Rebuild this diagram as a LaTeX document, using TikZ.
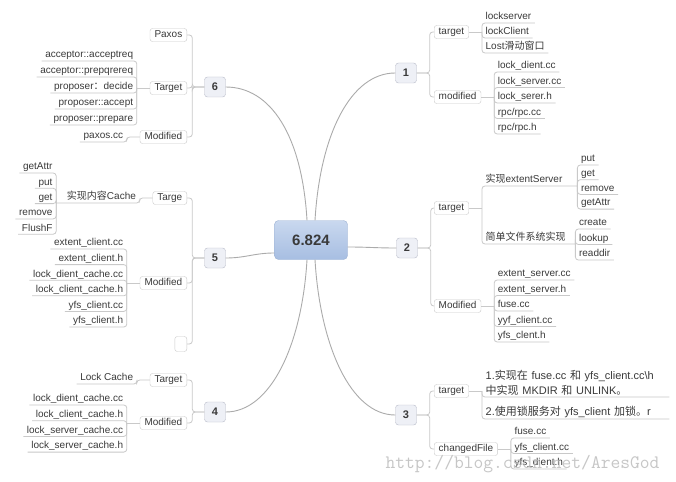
\documentclass[tikz,border=0pt]{standalone}
\usepackage{fontspec}
\setmainfont{Liberation Sans}
\newfontfamily\cjk{Noto Sans CJK SC}
\usepackage{tikz}
\newcommand{\zh}[1]{{\cjk #1}}
\newcommand{\leaffont}{\fontsize{10}{11}\selectfont}
\definecolor{ink}{HTML}{3A3A3A}
\definecolor{brline}{HTML}{C9C9C9}
\definecolor{curveline}{HTML}{ABABAB}
\definecolor{boxline}{HTML}{CACACA}
\definecolor{topicfill}{HTML}{EEF0F6}
\definecolor{topicline}{HTML}{B8BCC8}
\definecolor{rootA}{HTML}{C9D8EF}
\definecolor{rootB}{HTML}{A7BEE2}
\definecolor{rootline}{HTML}{9DB2D3}
\definecolor{wmark}{HTML}{BDBDBD}

\begin{document}
\begin{tikzpicture}[x=1pt,y=-1pt,
    root/.style={draw=rootline, rounded corners=4pt, top color=rootA, bottom color=rootB,
        minimum width=73pt, minimum height=39pt, text=ink,
        font=\fontsize{15}{15}\selectfont\bfseries},
    topic/.style={draw=topicline, rounded corners=3pt, fill=topicfill, text=ink,
        minimum width=21pt, minimum height=20pt, inner sep=0pt,
        font=\fontsize{11}{11}\selectfont\bfseries},
    sub/.style={draw=boxline, rounded corners=2.5pt, fill=white, text=ink,
        inner xsep=4.5pt, inner ysep=2pt, text height=7pt, text depth=2pt, font=\leaffont},
    leaf/.style={inner xsep=3.5pt, inner ysep=1pt, text height=7pt, text depth=2pt,
        text=ink, font=\leaffont},
    leafbig/.style={inner xsep=3.5pt, inner ysep=1.5pt, text width=180pt, align=left,
        text=ink, font=\fontsize{11}{15}\selectfont},
    brl/.style={draw=brline, line width=0.8pt, rounded corners=3pt},
    curve/.style={draw=curveline, line width=0.9pt},
    wmark/.style={text=wmark, opacity=0.85, font=\ttfamily\fontsize{19}{19}\selectfont}]
    %\draw[help lines] (0,0) grid (676,481);
    \fill[white] (0,0) rectangle (676,481);
    \useasboundingbox (0,0) rectangle (676,481);

    % centre and main topics
    \node[root] (root) at (311,240) {6.824};
    \node[topic] (t1) at (406,73) {1};
    \node[topic] (t2) at (407,248) {2};
    \node[topic] (t3) at (406,415) {3};
    \node[topic] (t4) at (215,412) {4};
    \node[topic] (t5) at (215,258) {5};
    \node[topic] (t6) at (215,87) {6};
    \draw[curve] ([xshift=4pt]root.north) .. controls +(5,-85) and +(-45,0) .. (t1.west);
    \draw[curve] ([xshift=-4pt]root.north) .. controls +(-5,-85) and +(45,0) .. (t6.east);
    \draw[curve] ([xshift=4pt]root.south) .. controls +(5,85) and +(-45,0) .. (t3.west);
    \draw[curve] ([xshift=-4pt]root.south) .. controls +(-5,85) and +(45,0) .. (t4.east);
    \draw[curve] ([yshift=-7pt]root.east) .. controls +(20,0) and +(-20,0) .. (t2.west);
    \draw[curve] ([yshift=-13pt]root.west) .. controls +(-20,0) and +(20,0) .. (t5.east);

    % sub topics, right
    \node[sub, anchor=west] (s1a) at (434,32) {target};
    \node[sub, anchor=west] (s1b) at (434,97) {modified};
    \node[sub, anchor=west] (s2a) at (434,208) {target};
    \node[sub, anchor=west] (s2b) at (434,306) {Modified};
    \node[sub, anchor=west] (s3a) at (434,391) {target};
    \node[sub, anchor=west] (s3b) at (434,449) {changedFile};
    \foreach \t/\s in {t1/s1a, t1/s1b, t2/s2a, t2/s2b, t3/s3a, t3/s3b}
        \draw[brl] (\t.east) -- ++(13,0) |- (\s.west);

    % sub topics, left
    \node[sub, anchor=east] (s6a) at (187,35) {Paxos};
    \node[sub, anchor=east] (s6b) at (187,88) {Target};
    \node[sub, anchor=east] (s6c) at (187,137) {Modified};
    \node[sub, anchor=east] (s5a) at (187,198) {Targe};
    \node[sub, anchor=east] (s5b) at (187,283) {Modified};
    \node[sub, anchor=east, minimum width=12pt, minimum height=15pt, inner xsep=0pt] (s5c) at (187,344) {};
    \node[sub, anchor=east] (s4a) at (187,380) {Target};
    \node[sub, anchor=east] (s4b) at (187,423) {Modified};
    \foreach \t/\s in {t6/s6a, t6/s6b, t6/s6c, t5/s5a, t5/s5b, t5/s5c, t4/s4a, t4/s4b}
        \draw[brl] (\t.west) -- ++(-12,0) |- (\s.east);

    % topic 1
    \coordinate (b1a) at ([xshift=13pt]s1a.east);
    \draw[brl] (s1a.east) -- (b1a);
    \foreach \t [count=\i] in {lockserver, lockClient, Lost\zh{滑动窗口}} {
        \pgfmathsetmacro{\yy}{23 + (\i-1)*15}
        \node[leaf, anchor=south west] (a1\i) at (b1a |- 0,\yy) {\t};
        \draw[brl] (b1a) |- (a1\i.south east);
    }
    \coordinate (b1b) at ([xshift=13pt]s1b.east);
    \draw[brl] (s1b.east) -- (b1b);
    \foreach \t [count=\i] in {lock\_dient.cc, lock\_server.cc, lock\_serer.h, rpc/rpc.cc, rpc/rpc.h} {
        \pgfmathsetmacro{\yy}{72 + (\i-1)*15.5}
        \node[leaf, anchor=south west] (m1\i) at (b1b |- 0,\yy) {\t};
        \draw[brl] (b1b) |- (m1\i.south east);
    }

    % topic 2
    \coordinate (b2a) at ([xshift=13pt]s2a.east);
    \draw[brl] (s2a.east) -- (b2a);
    \node[leaf, anchor=south west, text width=88pt] (a2a) at (b2a |- 0,186) {\zh{实现}extentServer};
    \node[leaf, anchor=south west, text width=86pt] (a2b) at (b2a |- 0,244) {\zh{简单文件系统实现}};
    \draw[brl] (b2a) |- (a2a.south east);
    \draw[brl] (b2a) |- (a2b.south east);
    \coordinate (b2c) at (a2a.south east);
    \foreach \t [count=\i] in {put, get, remove, getAttr} {
        \pgfmathsetmacro{\yy}{165 + (\i-1)*14.7}
        \node[leaf, anchor=south west] (c2\i) at (b2c |- 0,\yy) {\t};
        \draw[brl] (b2c) |- (c2\i.south east);
    }
    \coordinate (b2d) at (a2b.south east);
    \foreach \t [count=\i] in {create, lookup, readdir} {
        \pgfmathsetmacro{\yy}{229 + (\i-1)*15.5}
        \node[leaf, anchor=south west] (d2\i) at (b2d |- 0,\yy) {\t};
        \draw[brl] (b2d) |- (d2\i.south east);
    }
    \coordinate (b2b) at ([xshift=13pt]s2b.east);
    \draw[brl] (s2b.east) -- (b2b);
    \foreach \t [count=\i] in {extent\_server.cc, extent\_server.h, fuse.cc, yyf\_client.cc, yfs\_clent.h} {
        \pgfmathsetmacro{\yy}{280 + (\i-1)*15.5}
        \node[leaf, anchor=south west] (m2\i) at (b2b |- 0,\yy) {\t};
        \draw[brl] (b2b) |- (m2\i.south east);
    }

    % topic 3
    \coordinate (b3a) at ([xshift=13pt]s3a.east);
    \draw[brl] (s3a.east) -- (b3a);
    \node[leafbig, anchor=south west] (a31) at (b3a |- 0,397)
        {1.\zh{实现在} fuse.cc \zh{和} yfs\_client.cc\textbackslash h\\\zh{中实现} MKDIR \zh{和} UNLINK\zh{。}};
    \node[leafbig, anchor=south west] (a32) at (b3a |- 0,419)
        {2.\zh{使用锁服务对} yfs\_client \zh{加锁。}r};
    \draw[brl] (b3a) |- (a31.south east);
    \draw[brl] (b3a) |- (a32.south east);
    \coordinate (b3b) at ([xshift=13pt]s3b.east);
    \draw[brl] (s3b.east) -- (b3b);
    \foreach \t [count=\i] in {fuse.cc, yfs\_client.cc, yfs\_dient.h} {
        \pgfmathsetmacro{\yy}{438 + (\i-1)*15.5}
        \node[leaf, anchor=south west] (m3\i) at (b3b |- 0,\yy) {\t};
        \draw[brl] (b3b) |- (m3\i.south east);
    }

    % topic 4
    \coordinate (b4a) at ([xshift=-13pt]s4a.west);
    \node[leaf, anchor=south east] (a41) at (b4a |- 0,384) {Lock Cache};
    \draw[brl] (s4a.west) -- (b4a) |- (a41.south west);
    \coordinate (b4b) at ([xshift=-13pt]s4b.west);
    \draw[brl] (s4b.west) -- (b4b);
    \foreach \t [count=\i] in {lock\_dient\_cache.cc, lock\_client\_cache.h, lock\_server\_cache.cc, lock\_server\_cache.h} {
        \pgfmathsetmacro{\yy}{405 + (\i-1)*15.7}
        \node[leaf, anchor=south east] (m4\i) at (b4b |- 0,\yy) {\t};
        \draw[brl] (b4b) |- (m4\i.south west);
    }

    % topic 5
    \coordinate (b5a) at ([xshift=-13pt]s5a.west);
    \node[leaf, anchor=south east, text width=76pt, align=right] (a51) at (b5a |- 0,203) {\zh{实现内容}Cache};
    \draw[brl] (s5a.west) -- (b5a) |- (a51.south west);
    \coordinate (b5c) at (a51.south west);
    \foreach \t [count=\i] in {getAttr, put, get, remove, FlushF} {
        \pgfmathsetmacro{\yy}{173 + (\i-1)*15.3}
        \node[leaf, anchor=south east] (c5\i) at (b5c |- 0,\yy) {\t};
        \draw[brl] (b5c) |- (c5\i.south west);
    }
    \coordinate (b5b) at ([xshift=-13pt]s5b.west);
    \draw[brl] (s5b.west) -- (b5b);
    \foreach \t [count=\i] in {extent\_client.cc, extent\_client.h, lock\_dient\_cache.cc, lock\_client\_cache.h, yfs\_client.cc, yfs\_client.h} {
        \pgfmathsetmacro{\yy}{249 + (\i-1)*15.6}
        \node[leaf, anchor=south east] (m5\i) at (b5b |- 0,\yy) {\t};
        \draw[brl] (b5b) |- (m5\i.south west);
    }

    % topic 6
    \coordinate (b6b) at ([xshift=-13pt]s6b.west);
    \draw[brl] (s6b.west) -- (b6b);
    \foreach \t [count=\i] in {acceptor::acceptreq, acceptor::prepqrereq, proposer\zh{：}decide, proposer::accept, proposer::prepare} {
        \pgfmathsetmacro{\yy}{61 + (\i-1)*16}
        \node[leaf, anchor=south east] (a6\i) at (b6b |- 0,\yy) {\t};
        \draw[brl] (b6b) |- (a6\i.south west);
    }
    \coordinate (b6c) at ([xshift=-13pt]s6c.west);
    \node[leaf, anchor=south east] (m61) at (b6c |- 0,142) {paxos.cc};
    \draw[brl] (s6c.west) -- (b6c) |- (m61.south west);

    % watermark
    \node[wmark, anchor=base west] (wm) at (382,468) {http://blog.csdn.net/AresGod};
\end{tikzpicture}
\end{document}
